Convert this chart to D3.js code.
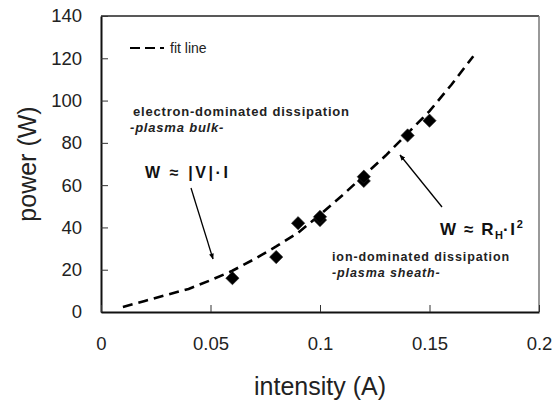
<!DOCTYPE html>
<html>
<head>
<meta charset="utf-8">
<script src="https://cdn.jsdelivr.net/npm/d3@7"></script>
<style>
  html, body { margin: 0; padding: 0; background: #fff; }
  svg { display: block; font-family: Arial, "Liberation Sans", sans-serif; }
</style>
</head>
<body>
<svg id="chart" width="556" height="405"></svg>
<script>
// Measured power vs. discharge current
const measI = [0.06, 0.08, 0.09, 0.10, 0.10, 0.12, 0.12, 0.14, 0.15];
const measW = [16, 26, 42, 43.5, 45, 62, 64, 83.5, 90.5];

// Fit curve through the measurements
const fitI = [0.01, 0.02, 0.03, 0.04, 0.05, 0.06, 0.07, 0.08, 0.09, 0.10, 0.11, 0.12, 0.13, 0.14, 0.15, 0.16, 0.17];
const fitW = [2.4, 5.2, 8.1, 10.9, 15, 19.5, 25, 31, 37.5, 46, 55, 64.5, 74, 84.5, 95, 107.5, 121];

// Axis ticks
const xTicks = [0, 0.05, 0.1, 0.15, 0.2];
const xTickLabels = ["0", "0.05", "0.1", "0.15", "0.2"];
const yTicks = [0, 20, 40, 60, 80, 100, 120, 140];

const svg = d3.select("#chart");
const plot = { left: 101, right: 539, top: 16, bottom: 312 };

const x = d3.scaleLinear().domain([0, 0.2]).range([plot.left, plot.right]);
const y = d3.scaleLinear().domain([0, 140]).range([plot.bottom, plot.top]);

// Frame: top and right edges
svg.append("line").attr("x1", plot.left).attr("x2", plot.right)
  .attr("y1", plot.top).attr("y2", plot.top)
  .attr("stroke", "#222").attr("stroke-width", 1.5);
svg.append("line").attr("x1", plot.right).attr("x2", plot.right)
  .attr("y1", plot.top).attr("y2", plot.bottom)
  .attr("stroke", "#777").attr("stroke-width", 1.5);

// Y axis with inward ticks
const yAxis = d3.axisLeft(y).tickValues(yTicks).tickSizeInner(-7).tickSizeOuter(0).tickPadding(19)
  .tickFormat(d3.format("d"));
const gy = svg.append("g").attr("transform", `translate(${plot.left},0)`).call(yAxis);
gy.select(".domain").attr("stroke", "#111").attr("stroke-width", 2);
gy.selectAll(".tick line").attr("stroke", "#333").attr("stroke-width", 1);
gy.selectAll(".tick text").attr("font-size", 18.5).attr("fill", "#222")
  .attr("font-family", "Arial, 'Liberation Sans', sans-serif");

// X axis with inward ticks
const xAxis = d3.axisBottom(x).tickValues(xTicks).tickSizeInner(-7).tickSizeOuter(0).tickPadding(25)
  .tickFormat((d, i) => xTickLabels[i]);
const gx = svg.append("g").attr("transform", `translate(0,${plot.bottom})`).call(xAxis);
gx.select(".domain").attr("stroke", "#111").attr("stroke-width", 2);
gx.selectAll(".tick line").attr("stroke", "#333").attr("stroke-width", 1);
gx.selectAll(".tick text").attr("font-size", 18.5).attr("fill", "#222")
  .attr("font-family", "Arial, 'Liberation Sans', sans-serif");

// Axis titles
svg.append("text").attr("x", (plot.left + plot.right) / 2).attr("y", 395)
  .attr("text-anchor", "middle").attr("font-size", 25).attr("fill", "#222")
  .text("intensity (A)");
svg.append("text").attr("transform", `translate(36,${(plot.top + plot.bottom) / 2}) rotate(-90)`)
  .attr("text-anchor", "middle").attr("font-size", 25).attr("fill", "#222")
  .text("power (W)");

// Fit line
const fitData = fitI.map((v, i) => [v, fitW[i]]);
svg.append("path").datum(fitData)
  .attr("d", d3.line().x(d => x(d[0])).y(d => y(d[1])))
  .attr("fill", "none").attr("stroke", "#000").attr("stroke-width", 2.6)
  .attr("stroke-dasharray", "10,6");

// Measurement markers (diamonds)
const diamond = d3.symbol().type(d3.symbolSquare).size(88);
svg.append("g").selectAll("path").data(measI.map((v, i) => [v, measW[i]])).join("path")
  .attr("d", diamond)
  .attr("transform", d => `translate(${x(d[0])},${y(d[1])}) rotate(45)`)
  .attr("fill", "#000").attr("stroke", "#222").attr("stroke-width", 0.6);

// Legend
svg.append("line").attr("x1", 130).attr("x2", 164).attr("y1", 48).attr("y2", 48)
  .attr("stroke", "#000").attr("stroke-width", 2).attr("stroke-dasharray", "10,5");
svg.append("text").attr("x", 170).attr("y", 53).attr("font-size", 14).attr("fill", "#222")
  .text("fit line");

// Arrow marker
svg.append("defs").append("marker").attr("id", "arrow")
  .attr("viewBox", "0 0 10 10").attr("refX", 9).attr("refY", 5)
  .attr("markerWidth", 6).attr("markerHeight", 6).attr("markerUnits", "userSpaceOnUse")
  .attr("orient", "auto")
  .append("path").attr("d", "M0,1 L10,5 L0,9 Z").attr("fill", "#000");

// Annotation: bulk regime
svg.append("text").attr("x", 133).attr("y", 116).attr("font-size", 13).attr("font-weight", "bold")
  .attr("letter-spacing", 0.8).attr("fill", "#222").text("electron-dominated dissipation");
svg.append("text").attr("x", 130).attr("y", 132).attr("font-size", 13).attr("font-weight", "bold")
  .attr("font-style", "italic").attr("letter-spacing", 0.8).attr("fill", "#222").text("-plasma bulk-");
svg.append("text").attr("x", 145).attr("y", 178).attr("font-size", 16).attr("font-weight", "bold")
  .attr("letter-spacing", 2.6).attr("fill", "#111").text("W ≈ |V|·I");
svg.append("line").attr("x1", 191).attr("y1", 188).attr("x2", 213).attr("y2", 259)
  .attr("stroke", "#000").attr("stroke-width", 1.3).attr("marker-end", "url(#arrow)");

// Annotation: sheath regime
const f2 = svg.append("text").attr("x", 440).attr("y", 235).attr("font-size", 17).attr("font-weight", "bold")
  .attr("letter-spacing", 1.6).attr("fill", "#111");
f2.append("tspan").text("W ≈ R");
f2.append("tspan").attr("dy", 4).attr("font-size", 11).attr("letter-spacing", 0).text("H");
f2.append("tspan").attr("dy", -4).text("·I");
f2.append("tspan").attr("dy", -7).attr("font-size", 11).attr("letter-spacing", 0).text("2");
svg.append("text").attr("x", 332).attr("y", 261).attr("font-size", 12.5).attr("font-weight", "bold")
  .attr("letter-spacing", 0.9).attr("fill", "#222").text("ion-dominated dissipation");
svg.append("text").attr("x", 332).attr("y", 277).attr("font-size", 12.5).attr("font-weight", "bold")
  .attr("font-style", "italic").attr("letter-spacing", 0.9).attr("fill", "#222").text("-plasma sheath-");
svg.append("line").attr("x1", 442).attr("y1", 207).attr("x2", 400).attr("y2", 155)
  .attr("stroke", "#000").attr("stroke-width", 1.3).attr("marker-end", "url(#arrow)");
</script>
</body>
</html>
